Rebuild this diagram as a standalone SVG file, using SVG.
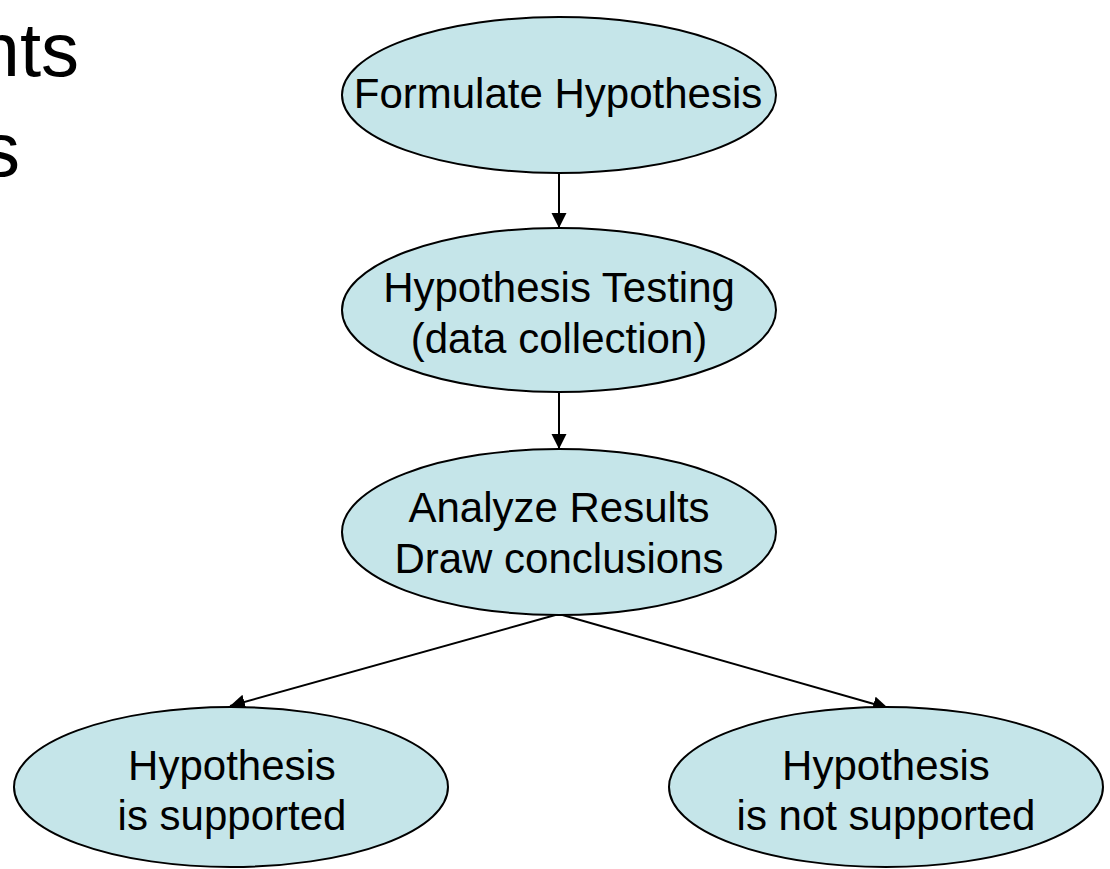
<svg xmlns="http://www.w3.org/2000/svg" width="1110" height="869" viewBox="0 0 1110 869">
<style>
.node ellipse{fill:#c5e5e9;stroke:#000;stroke-width:2}
.node text{font-family:"Liberation Sans",Arial,sans-serif;font-size:42px;fill:#000;text-anchor:middle}
.title{font-family:"Liberation Sans",Arial,sans-serif;font-size:76px;fill:#000;text-anchor:end}
.conn line{stroke:#000;stroke-width:2;marker-end:url(#arrow)}
</style>
<defs>
<marker id="arrow" markerUnits="userSpaceOnUse" markerWidth="16" markerHeight="16" refX="15" refY="7.5" orient="auto" viewBox="0 0 16 16">
<path d="M0,0 L15,7.5 L0,15 z" fill="#000"/>
</marker>
</defs>
<rect width="1110" height="869" fill="#fff"/>
<text class="title" x="79" y="76">nts</text>
<text class="title" x="20" y="176">s</text>
<g class="conn">
<line x1="559" y1="173" x2="559" y2="228"/>
<line x1="559" y1="392" x2="559" y2="449"/>
<line x1="559" y1="614" x2="230" y2="706"/>
<line x1="559" y1="614" x2="888" y2="708"/>
</g>
<g id="n1" class="node">
<ellipse cx="559" cy="95" rx="217" ry="78"/>
<text x="558" y="108">Formulate Hypothesis</text>
</g>
<g id="n2" class="node">
<ellipse cx="559" cy="310" rx="217" ry="82"/>
<text x="559" y="302">Hypothesis Testing</text>
<text x="559" y="353">(data collection)</text>
</g>
<g id="n3" class="node">
<ellipse cx="559" cy="532" rx="217" ry="83"/>
<text x="559" y="522">Analyze Results</text>
<text x="559" y="573">Draw conclusions</text>
</g>
<g id="n4" class="node">
<ellipse cx="231" cy="787" rx="217" ry="80"/>
<text x="232" y="780">Hypothesis</text>
<text x="232" y="830">is supported</text>
</g>
<g id="n5" class="node">
<ellipse cx="886" cy="787" rx="217" ry="80"/>
<text x="886" y="780">Hypothesis</text>
<text x="886" y="830">is not supported</text>
</g>
</svg>
